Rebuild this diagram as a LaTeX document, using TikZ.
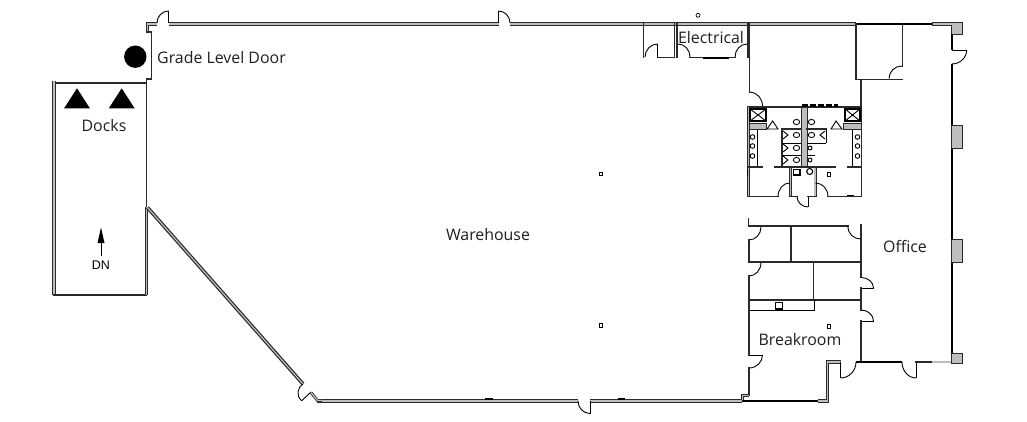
\documentclass[tikz,border=0pt]{standalone}
\usepackage{fontspec}
\setmainfont{Open Sans}
\newfontfamily\dnfont{Liberation Sans}
\usetikzlibrary{calc}
\definecolor{walldark}{HTML}{2A2A2A}
\definecolor{wallfill}{HTML}{BEBEBE}
\tikzset{
  wall/.style={draw=walldark,line width=1.9pt,line cap=rect},
  thickwall/.style={draw=black,line width=2.3pt},
  dwall/.style={draw=walldark,line width=3.6pt,line join=miter,postaction={draw=wallfill,line width=1.2pt}},
  doorline/.style={draw=black,line width=.9pt},
  fix/.style={draw=black,line width=.9pt},
  grayblock/.style={draw=walldark,line width=.6pt,fill=wallfill},
  label/.style={font=\fontsize{15.9}{18}\selectfont,text=black!88,inner sep=0pt},
  solid mark/.style={fill=black,draw=none}
}
\def\qarc(#1)(#2)(#3){\draw[doorline] (#1) .. controls ($(#1)!.55!(#3)$) and ($(#2)!.55!(#3)$) .. (#2);}
\begin{document}
\begin{tikzpicture}[x=1pt,y=-1pt]
\useasboundingbox (0,0) rectangle (1027,422);
% docks
\draw[wall] (146.5,83) -- (54,83);
\draw[dwall] (54,81) -- (54,295);
\draw[wall] (54,295) -- (146.5,295);
\draw[wall] (146.5,83) -- (146.5,207);
\draw[dwall] (146.5,207) -- (146.5,295);
\fill[solid mark] (135.3,56.7) circle (11.2);
\fill[solid mark] (77,88.3) -- (90,108.5) -- (64,108.5) -- cycle;
\fill[solid mark] (121.7,88.3) -- (134.7,108.5) -- (108.7,108.5) -- cycle;
\node[label] (docks) at (104,125.8) {Docks};
\node[label] (grade) at (221.5,57.8) {Grade Level Door};
\node[inner sep=0pt,font=\dnfont\fontsize{12.5}{14}\selectfont] (dn) at (101,265) {DN};
\coordinate (dntip) at (101,227.5);
\coordinate (dnend) at (101,256);
\draw[line width=.9pt] (dnend) -- (101,240);
\fill[solid mark] (dntip) -- (104.5,243) -- (97.5,243) -- cycle;
% outer corner top left
\draw[dwall] (157,24) -- (147.5,24) -- (147.5,32);
\draw[wall] (147,32) -- (151.5,32) -- (151.5,79) -- (146.5,79) -- (146.5,83);
\draw[doorline] (168.5,11) -- (168.5,23);
\qarc(157,23)(168.5,11)(157,11)
% top wall
\draw[dwall] (168.5,24) -- (498.5,24);
\draw[doorline] (498.5,11) -- (498.5,23);
\qarc(498.5,11)(510,23)(510,11)
\draw[dwall] (510,24) -- (856,24);
\draw[thickwall] (856,24) -- (932,24);
\node[circle,draw=black,line width=.7pt,minimum size=4pt,inner sep=0pt] (col0) at (698,15.3) {};
% alcove + electrical
\draw[wall] (643.5,24) -- (643.5,57);
\draw[wall] (674.5,24) -- (674.5,57);
\qarc(645,57)(657.7,44)(645,44)
\draw[doorline] (657.7,44) -- (657.7,57);
\draw[wall,line width=1.2pt] (657.7,57.5) -- (674,57.5);
\draw[wall] (677,24) -- (677,57);
\draw[wall] (748,24) -- (748,57);
\qarc(678,44)(690,57)(690,44)
\qarc(747,44)(735,57)(735,44)
\draw[wall,line width=1.2pt] (690,57.5) -- (735,57.5);
\draw[thickwall] (703,58.3) -- (729,58.3);
\node[label] (elec) at (711,37.8) {Electrical};
% room behind electrical
\draw[wall] (749.5,24) -- (749.5,92);
\qarc(749.5,92)(762.5,106)(762.5,92)
\draw[wall] (856,24) -- (856,79.5) -- (902.5,79.5);
\draw[wall] (902.5,24) -- (902.5,66);
\qarc(902,66)(889,78.5)(889,66)
\draw[wall] (861,80) -- (861,107);
% right wall
\fill[grayblock] (932,22.5) -- (962,22.5) -- (962,34) -- (951,34) -- (951,25.5) -- (932,25.5) -- cycle;
\draw[thickwall] (951.7,34) -- (951.7,50);
\draw[doorline] (951.7,50) -- (966.7,50);
\qarc(966.7,50)(951.7,64)(966.7,64)
\draw[thickwall] (951.7,64) -- (951.7,353);
\fill[grayblock] (951,125) rectangle (962.5,148);
\fill[grayblock] (951,239.5) rectangle (962.5,262.5);
\fill[grayblock] (951,353) rectangle (962.5,363);
% restroom block
\draw[wall,line width=2.2pt] (748.5,107) -- (861,107);
\draw[dwall,line width=3pt] (748.5,107) -- (748.5,196.5);
\draw[wall] (861.5,107) -- (861.5,196.5);
\draw[thickwall,dash pattern=on 6pt off 2pt] (802,105.5) -- (838,105.5);
\fill[grayblock] (801,107) rectangle (807,167);
\foreach \a/\b in {750/766,845/860}{
  \draw[fix,line width=1.2pt] (\a,109) rectangle (\b,121);
  \draw[fix] (\a,109) -- (\b,121) (\a,121) -- (\b,109);
}
\fill[grayblock] (749,123) rectangle (766,129);
\fill[grayblock] (843,123) rectangle (861,129);
\draw[fix] (767,129) -- (772.7,121) -- (778,129) -- cycle;
\draw[fix] (831,129) -- (836,121) -- (842,129) -- cycle;
\draw[fix] (757.5,130) -- (757.5,166);
\draw[fix] (852,130) -- (852,166);
\foreach \y in {137,146,156}{
  \draw[fix] (752.5,\y) circle (2.3);
  \draw[fix] (857.5,\y) circle (2.3);
}
\draw[wall] (749,167) -- (762,167);
\draw[wall] (848,167) -- (861,167);
\draw[wall] (775,167) -- (835,167);
\draw[wall,line width=1.3pt] (782,129) -- (801,129);
\draw[wall,line width=1.3pt] (807,129) -- (826,129);
\draw[fix] (826,129) -- (826,143);
\draw[wall,line width=1.3pt] (782,129) -- (782,167);
\draw[fix] (782,143) -- (801,143) (807,143) -- (826,143);
\draw[fix] (782,155) -- (801,155) (807,155) -- (815,155);
\foreach \y in {122,135,148,160}{
  \draw[fix] (796.5,\y) ellipse (3.2 and 2.6);
}
\foreach \y in {122,135}{
  \draw[fix] (811.5,\y) ellipse (3.2 and 2.6);
}
\foreach \y in {148,160}{
  \draw[fix] (810,\y) ellipse (2 and 2);
}
\foreach \y in {135,148,160}{
  \draw[fix] (783,\y-4) -- (788,\y) -- (783,\y+4);
}
\draw[fix] (825,131) -- (820,135) -- (825,139);
% lobby of restrooms
\draw[dwall,line width=3pt] (790.7,168) -- (790.7,196.5);
\draw[dwall,line width=3pt] (815,168) -- (815,196.5);
\draw[wall] (748.5,196.5) -- (778,196.5);
\qarc(778,196.5)(789.5,183)(778,183)
\qarc(815.5,183)(828,196.5)(828,183)
\draw[wall] (828,196.5) -- (861.5,196.5);
\draw[wall,line width=1.2pt] (790.7,196.5) -- (797,196.5);
\draw[wall,line width=1.2pt] (808,196.5) -- (815,196.5);
\qarc(797,196.5)(808,207)(797,207)
\draw[doorline] (808,196.5) -- (808,207);
\draw[thickwall,line width=1.7pt] (847,195.5) -- (854,195.5);
\draw[thickwall,line width=1.7pt] (747.5,170) -- (747.5,176);
\draw[fix,line width=1.3pt] (793.5,169.5) rectangle (800,175);
\draw[fix,line width=1.1pt] (809.7,171.5) circle (3);
\node[draw=black,line width=.7pt,minimum size=3.5pt,inner sep=0pt] (col1) at (829,174.5) {};
% lower cluster
\draw[wall] (749,226) -- (847.7,226);
\draw[wall] (748.5,218.5) -- (748.5,226);
\draw[wall] (860.8,225) -- (860.8,277.5);
\qarc(847.7,226)(860.5,239)(847.7,239)
\qarc(761,227)(749,240)(761,240)
\draw[wall] (749.3,240) -- (749.3,262);
\qarc(761,262.5)(749,276)(761,276)
\draw[wall] (749.3,276) -- (749.3,355);
\draw[wall] (791,226) -- (791,262);
\draw[wall] (749,262) -- (861,262);
\draw[wall] (813.5,262) -- (813.5,300);
\draw[wall] (749,300) -- (861,300);
\draw[fix] (749,310) -- (814,310) -- (814,300);
\draw[fix,line width=1.3pt] (775.7,302.5) rectangle (782.7,309);
\qarc(861,277.5)(873.5,288)(873.5,277.5)
\draw[doorline] (861,288) -- (873.5,288);
\draw[wall] (860.8,288) -- (860.8,310);
\qarc(861,310)(873.5,321)(873.5,310)
\draw[doorline] (861,321) -- (873.5,321);
\draw[wall] (860.8,321) -- (860.8,362);
% breakroom / bottom right
\draw[doorline] (749,355) -- (762.5,355);
\qarc(762.5,355)(749,368)(762.5,368)
\draw[wall] (749.3,368) -- (749.3,395);
\draw[dwall] (749,395.5) -- (742.5,395.5) -- (742.5,401);
\draw[thickwall] (742,401) -- (818,401);
\draw[dwall] (818,401) -- (827.5,401) -- (827.5,362) -- (840.5,362);
\draw[doorline] (840.7,362) -- (840.7,378);
\qarc(840.7,378)(856,362)(856,378)
\draw[thickwall] (856,362) -- (902,362);
\qarc(902,362)(916,378)(902,378)
\draw[doorline] (916,362) -- (916,378);
\draw[wall] (916,362) -- (932,362);
\draw[dwall,line width=2.6pt] (932,362) -- (951,362);
\node[draw=black,line width=.7pt,minimum size=3.5pt,inner sep=0pt] (col2) at (829,326.5) {};
\node[label] (office) at (905,246.6) {Office};
\node[label] (break) at (800,339.6) {Breakroom};
% warehouse
\node[label] (ware) at (488,234.8) {Warehouse};
\node[draw=black,line width=.7pt,minimum size=3.5pt,inner sep=0pt] (col3) at (601,174) {};
\node[draw=black,line width=.7pt,minimum size=3.5pt,inner sep=0pt] (col4) at (601,325.5) {};
% bottom wall
\draw[dwall] (590,401) -- (742,401);
\draw[dwall] (317,401) -- (578,401);
\draw[doorline] (590,401) -- (590,413.5);
\qarc(578,401)(590,413.5)(578,413.5)
\draw[thickwall,line width=2.6pt] (485,399) -- (492.5,399);
\draw[thickwall,line width=2.6pt] (617.5,399) -- (625,399);
% diagonal
\draw[dwall] (147.5,207.5) -- (303,384);
\draw[doorline] (303,384) .. controls (297,388) and (296,396) .. (301.7,400.7);
\draw[doorline] (301.7,400.7) -- (311,392);
\draw[dwall,line width=2.8pt] (311,392.5) -- (317.5,400.5) -- (322,400.5);
\end{tikzpicture}
\end{document}
